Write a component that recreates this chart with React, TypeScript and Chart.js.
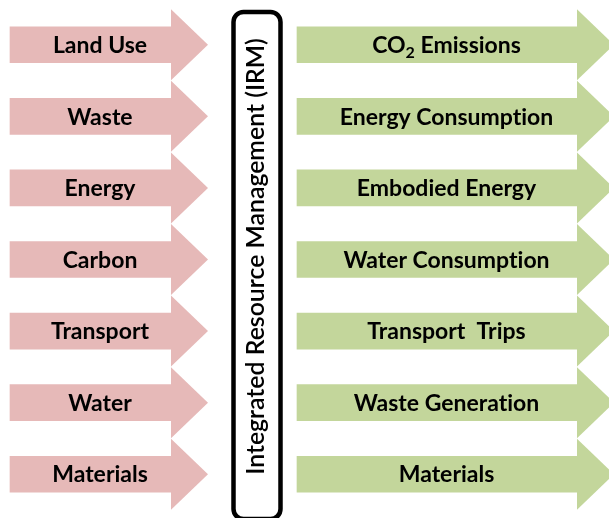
import React, { useEffect, useRef } from 'react';
import { Chart, registerables } from 'chart.js';

Chart.register(...registerables);

// ---- content ----
const leftLabels = ['Land Use', 'Waste', 'Energy', 'Carbon', 'Transport', 'Water', 'Materials'];
const rightLabels = [
  'CO₂ Emissions',
  'Energy Consumption',
  'Embodied Energy',
  'Water Consumption',
  'Transport  Trips',
  'Waste Generation',
  'Materials',
];
const centerLabel = 'Integrated Resource Management (IRM)';

// ---- layout / style (stage units, x scale spans the canvas width) ----
const W = 609;
const H = 518;
const LEFT_SPAN: [number, number] = [10, 172];
const RIGHT_SPAN: [number, number] = [297, 578];
const BODY_THICK = 36;
const HEAD_LEN = 36;
const HEAD_HALF = 35.5;
const LABEL_SHIFT = 9;
const PINK = '#E6B9B8';
const GREEN = '#C3D69B';
const FONT_FAMILY = 'Lato, "Open Sans", sans-serif';
const LABEL_SIZE = 23;
const SUB_SIZE = 16;
const BOX = { x0: 233.5, x1: 280.5, top: 12, bottom: 519, radius: 10, line: 4.5 };
const CENTER_TEXT_LENGTH = 437;

// avoid the Lato "ti" ligature (Calibri-like rendering)
const noLig = (s: string) => s.replace(/t(?=[ifl])/g, 't\u200C').replace(/f(?=[ifl])/g, 'f\u200C');

function drawLabel(ctx: CanvasRenderingContext2D, text: string, cx: number, cy: number) {
  const main = `bold ${LABEL_SIZE}px ${FONT_FAMILY}`;
  const sub = `bold ${SUB_SIZE}px ${FONT_FAMILY}`;
  const parts = text.split('₂');
  const pieces: { t: string; sub: boolean }[] = [];
  parts.forEach((p, i) => {
    if (i > 0) pieces.push({ t: '2', sub: true });
    if (p) pieces.push({ t: noLig(p), sub: false });
  });
  let total = 0;
  const widths = pieces.map((pc) => {
    ctx.font = pc.sub ? sub : main;
    const w = ctx.measureText(pc.t).width;
    total += w;
    return w;
  });
  let x = cx - total / 2;
  const baseline = cy + LABEL_SIZE * 0.36;
  ctx.fillStyle = '#000';
  ctx.textAlign = 'left';
  ctx.textBaseline = 'alphabetic';
  pieces.forEach((pc, i) => {
    ctx.font = pc.sub ? sub : main;
    ctx.fillText(pc.t, x, pc.sub ? baseline + 5 : baseline);
    x += widths[i];
  });
}

const arrowPlugin = {
  id: 'arrowHeads',
  afterDatasetsDraw(chart: any) {
    const ctx: CanvasRenderingContext2D = chart.ctx;
    ctx.save();
    chart.data.datasets.forEach((ds: any, di: number) => {
      const meta = chart.getDatasetMeta(di);
      meta.data.forEach((bar: any, i: number) => {
        const { x, y, base } = bar.getProps(['x', 'y', 'base'], true);
        ctx.fillStyle = ds.backgroundColor;
        ctx.beginPath();
        ctx.moveTo(x - 1, y - HEAD_HALF);
        ctx.lineTo(x + HEAD_LEN, y);
        ctx.lineTo(x - 1, y + HEAD_HALF);
        ctx.closePath();
        ctx.fill();
        drawLabel(ctx, ds.arrowLabels[i], (x + base) / 2 + LABEL_SHIFT, y);
      });
    });

    // central IRM box
    const xs = chart.scales.x;
    const x0 = xs.getPixelForValue(BOX.x0);
    const x1 = xs.getPixelForValue(BOX.x1);
    ctx.strokeStyle = '#000';
    ctx.lineWidth = BOX.line;
    ctx.beginPath();
    ctx.roundRect(x0, BOX.top, x1 - x0, BOX.bottom - BOX.top, BOX.radius);
    ctx.stroke();

    const ys = chart.scales.y;
    const cy = (ys.getPixelForValue(0) + ys.getPixelForValue(leftLabels.length - 1)) / 2 - 3;
    const cx = (x0 + x1) / 2 - 1;
    const txt = noLig(centerLabel);
    ctx.font = `600 24px ${FONT_FAMILY}`;
    const size = (24 * CENTER_TEXT_LENGTH) / ctx.measureText(txt).width;
    ctx.font = `600 ${size}px ${FONT_FAMILY}`;
    ctx.translate(cx, cy);
    ctx.rotate(-Math.PI / 2);
    ctx.fillStyle = '#000';
    ctx.textAlign = 'center';
    ctx.textBaseline = 'alphabetic';
    ctx.fillText(txt, 0, size * 0.34);
    ctx.restore();
  },
};

export default function App() {
  const ref = useRef<HTMLCanvasElement | null>(null);

  useEffect(() => {
    if (!ref.current) return;
    const chart = new Chart(ref.current, {
      type: 'bar',
      data: {
        labels: leftLabels,
        datasets: [
          {
            label: 'inputs',
            data: leftLabels.map(() => LEFT_SPAN),
            backgroundColor: PINK,
            borderWidth: 0,
            barThickness: BODY_THICK,
            grouped: false,
            arrowLabels: leftLabels,
          } as any,
          {
            label: 'outputs',
            data: rightLabels.map(() => RIGHT_SPAN),
            backgroundColor: GREEN,
            borderWidth: 0,
            barThickness: BODY_THICK,
            grouped: false,
            arrowLabels: rightLabels,
          } as any,
        ],
      },
      options: {
        indexAxis: 'y',
        responsive: false,
        animation: false,
        devicePixelRatio: 1,
        layout: { padding: { top: 9, bottom: 8, left: 0, right: 0 } },
        scales: {
          x: { type: 'linear', min: 0, max: W, display: false },
          y: { type: 'category', display: false },
        },
        plugins: {
          legend: { display: false },
          tooltip: { enabled: false },
          title: { display: false },
        },
      },
      plugins: [arrowPlugin],
    });
    return () => chart.destroy();
  }, []);

  return (
    <div style={{ position: 'fixed', left: 0, top: 0, width: W, height: H, background: '#fff' }}>
      <canvas ref={ref} width={W} height={H} style={{ display: 'block' }} />
    </div>
  );
}
